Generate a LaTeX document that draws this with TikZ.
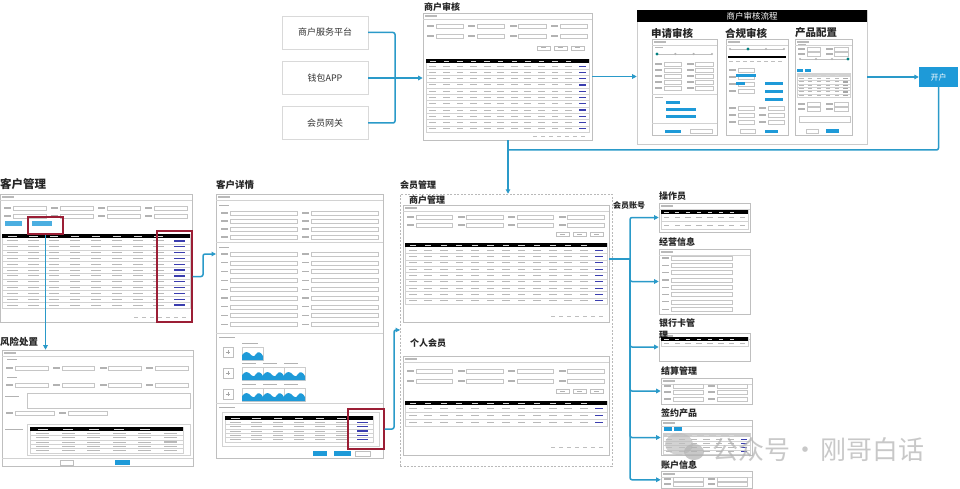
\documentclass[tikz,border=0pt]{standalone}
\usepackage{fontspec}
\setmainfont{Noto Sans CJK SC}
\usetikzlibrary{fit,arrows.meta}
\definecolor{flow}{HTML}{2A9AC9}
\definecolor{kaihu}{HTML}{1E9AD8}
\definecolor{redbox}{HTML}{9B1E35}
\definecolor{link}{HTML}{3A3DAE}
\definecolor{shotgray}{HTML}{BFBFBF}

\tikzset{
  flowline/.style={draw=flow, line width=1.5pt, rounded corners=2pt},
  flowarrow/.style={flowline, -{Triangle[length=4.5pt,width=4.5pt]}},
  shotframe/.style={draw=shotgray, line width=0.6pt, fill=white, inner sep=0pt},
  redframe/.style={draw=redbox, line width=1.1pt, inner sep=0pt},
  ttl/.style={font=\fontsize{9}{12}\selectfont\bfseries, anchor=west, inner sep=0pt, text=black!85},
  bigttl/.style={ttl, font=\fontsize{11.5}{14}\selectfont\bfseries},
  subttl/.style={ttl, font=\fontsize{10.5}{13}\selectfont\bfseries},
  srcbox/.style={draw=gray!30, fill=white, minimum width=86pt, minimum height=33pt, inner sep=0pt, font=\fontsize{9}{11}\selectfont, text=black!80},
}

\newcommand{\shot}[5]{%
  \node[shotframe, fit={(#2,#3)(#4,#5)}] (#1) {};
  \draw[gray!35, line width=0.4pt] (#2,#3+6) -- (#4,#3+6);
  \fill[gray!55] (#2+2,#3+2.4) rectangle ++(12,1.2);
}
\newcommand{\formrows}[6]{%
  \foreach \frw in {1,...,#4}{%
    \foreach \fcl in {1,...,#6}{%
      \pgfmathsetmacro\fcx{(#1)+(\fcl-1)*((#2)-(#1))/(#6)}%
      \pgfmathsetmacro\fcy{(#3)+(\frw-1)*(#5)}%
      \pgfmathsetmacro\fcw{((#2)-(#1))/(#6)}%
      \fill[gray!60] (\fcx+2,\fcy-0.6) rectangle ++(7,1.2);
      \draw[gray!45, line width=0.3pt] (\fcx+11,\fcy-2) rectangle (\fcx+\fcw-3,\fcy+2);
    }}}
\newcommand{\btns}[2]{%
  \foreach \bb in {1,2,3}{%
    \draw[gray!50, line width=0.3pt] ({(#1)-\bb*17},{(#2)-2}) rectangle ++(13,4);
    \fill[gray!60] ({(#1)-\bb*17+4},{(#2)-0.5}) rectangle ++(5,1);}}
\newcommand{\tablebody}[8]{%
  \pgfmathsetmacro\tbA{#1}\pgfmathsetmacro\tbB{#2}%
  \pgfmathsetmacro\tbT{#3}\pgfmathsetmacro\tbE{#4}%
  \pgfmathsetmacro\tbH{(\tbE-\tbT-4)/(#5)}%
  \pgfmathsetmacro\tbW{(\tbB-\tbA)/(#6)}%
  \pgfmathtruncatemacro\tbN{(#6)-2}%
  \draw[gray!35, line width=0.3pt] (\tbA,\tbT) rectangle (\tbB,\tbE);
  \fill[#8] (\tbA,\tbT) rectangle (\tbB,\tbT+4);
  \foreach \ti in {0,...,\tbN}{\fill[gray!30] (\tbA+\ti*\tbW+0.3*\tbW,\tbT+1.6) rectangle ++(0.4*\tbW,0.8);}
  \foreach \ti in {1,...,#5}{%
    \draw[gray!35, line width=0.3pt] (\tbA,\tbT+4+\ti*\tbH) -- (\tbB,\tbT+4+\ti*\tbH);
    \foreach \tc in {0,...,\tbN}{%
      \fill[gray!55] (\tbA+\tc*\tbW+0.25*\tbW,\tbT+4+\ti*\tbH-0.5*\tbH-0.5) rectangle ++(0.5*\tbW,1);}
    \fill[#7] (\tbB-0.75*\tbW,\tbT+4+\ti*\tbH-0.5*\tbH-0.6) rectangle ++(0.5*\tbW,1.2);
  }}
\newcommand{\pager}[2]{%
  \foreach \pp in {0,...,6}{\fill[gray!50] ({(#1)-56+\pp*8},{(#2)-0.5}) rectangle ++(4,1);}}
\newcommand{\mountain}[2]{%
  \draw[gray!40, line width=0.3pt, fill=white] (#1,#2) rectangle ++(21,13);
  \fill[kaihu] (#1,#2+13) -- (#1,#2+8) .. controls (#1+3,#2+4) and (#1+6,#2+4) .. (#1+9,#2+8) .. controls (#1+11,#2+10) and (#1+12,#2+10) .. (#1+14,#2+7) .. controls (#1+16,#2+4) and (#1+19,#2+5) .. (#1+21,#2+9) -- (#1+21,#2+13) -- cycle;
}
\newcommand{\plusbox}[2]{%
  \draw[gray!50, line width=0.3pt] (#1,#2) rectangle ++(10,10);
  \draw[gray!70, line width=0.5pt] (#1+3,#2+5) -- (#1+7,#2+5) (#1+5,#2+3) -- (#1+5,#2+7);
}
\newcommand{\steps}[4]{% x1 x2 y activeindex
  \draw[gray!50, line width=0.4pt] (#1,#3) -- (#2,#3);
  \foreach \sk in {0,1,2,3}{%
    \pgfmathsetmacro\skx{(#1)+\sk*((#2)-(#1))/3}%
    \ifnum\sk=#4 \fill[teal] (\skx,#3) circle (1.6);\else\fill[gray!60] (\skx,#3) circle (1.2);\fi}
}

\begin{document}
\begin{tikzpicture}[x=1pt,y=-1pt]
\useasboundingbox[fill=white] (0,0) rectangle (960,489);

% ---------- sources ----------
\node[srcbox] (src1) at (325,32.5) {商户服务平台};
\node[srcbox] (src2) at (325,78) {钱包APP};
\node[srcbox] (src3) at (325,123) {会员网关};

% ---------- 商户审核 ----------
\node[ttl] (tAudit) at (424,7) {商户审核};
\shot{audit}{423}{13}{592}{140}
\formrows{425}{590}{26}{2}{10}{4}
\btns{588}{48}
\tablebody{426}{589}{59}{132}{11}{12}{link}{black}
\pager{589}{137}

% ---------- 商户审核流程 ----------
\node[shotframe, draw=gray!40, fit={(637,10)(867,144)}] (flowbox) {};
\node[fill=black, text=white, minimum width=230pt, minimum height=12pt, anchor=north west, inner sep=0pt, font=\fontsize{8.5}{10}\selectfont] (flowtitle) at (637,10) {商户审核流程};
\node[subttl] (tApply) at (651,33) {申请审核};
\node[subttl] (tComp) at (725,33) {合规审核};
\node[subttl] (tProd) at (795,33) {产品配置};
% apply
\shot{apply}{652}{39}{717}{135}
\fill[gray!55] (655,47) rectangle ++(8,1);
\steps{657}{712}{54}{0}
\formrows{653}{716}{64}{5}{6}{2}
\draw[gray!35, line width=0.3pt] (652,94) -- (717,94);
\fill[gray!55] (655,97) rectangle ++(8,1);
\fill[kaihu] (666,101) rectangle (680,104);
\fill[kaihu] (666,108) rectangle (696,111);
\fill[kaihu] (666,115) rectangle (696,118);
\draw[gray!35, line width=0.3pt] (652,123) -- (717,123);
\fill[kaihu] (665,130) rectangle (681,133);
\draw[gray!45, line width=0.3pt] (690,129) rectangle (712,133);
% compliance
\shot{comp}{726}{39}{788}{135}
\steps{730}{784}{49}{1}
\fill[black] (728,56) rectangle (786,58.5);
\foreach \q in {0,...,7}{\fill[gray!50] (729+\q*7,61) rectangle ++(4,1);}
\formrows{727}{757}{70}{4}{7}{1}
\fill[kaihu] (736,74) rectangle (756,77);
\fill[kaihu] (736,82) rectangle (745,85);
\fill[kaihu] (765,82) rectangle (783,85);
\fill[kaihu] (765,90) rectangle (783,93);
\fill[kaihu] (765,98) rectangle (783,101);
\formrows{727}{787}{108}{3}{7}{2}
\fill[kaihu] (765,130) rectangle (778,133);
\draw[gray!45, line width=0.3pt] (740,129) rectangle (755,133);
% product
\shot{prod}{795}{39}{852}{135}
\fill[gray!55] (798,44) rectangle ++(8,1);
\formrows{796}{851}{49}{2}{5}{2}
\steps{800}{848}{59}{3}
\fill[kaihu] (797,69) rectangle (803,72);
\fill[kaihu] (805,69) rectangle (811,72);
\tablebody{797}{850}{73}{97}{6}{6}{gray!70}{gray!35}
\formrows{796}{851}{104}{2}{5}{2}
\draw[gray!45, line width=0.3pt] (799,116) rectangle (850,122);
\fill[kaihu] (826,129) rectangle (839,133);
\draw[gray!45, line width=0.3pt] (806,129) rectangle (818,133);

% ---------- 开户 ----------
\node[fill=kaihu, text=white, minimum width=39pt, minimum height=20pt, inner sep=0pt, font=\fontsize{8}{10}\selectfont] (kaihu) at (938.5,77) {开户};

% ---------- 会员管理 ----------
\node[ttl] (tMember) at (400,185) {会员管理};
\node[draw=gray!55, dashed, dash pattern=on 2pt off 1.5pt, line width=0.5pt, fit={(400,194)(612,466)}, inner sep=0pt] (member) {};
\node[ttl] (tMerch) at (409,200) {商户管理};
\shot{mem1}{403}{205}{609}{322}
\formrows{405}{607}{217}{2}{8}{4}
\btns{607}{234}
\tablebody{405}{607}{243}{304}{9}{13}{link}{black}
\pager{607}{316}
\node[ttl] (tPerson) at (410,343) {个人会员};
\shot{mem2}{403}{356}{609}{455}
\formrows{405}{607}{371}{2}{10}{4}
\btns{607}{391}
\tablebody{405}{607}{401}{426}{3}{13}{link}{black}
\pager{607}{447}
\node[ttl, font=\fontsize{8}{10}\selectfont\bfseries] (tAcct) at (613,205) {会员账号};

% ---------- right column ----------
\node[ttl] (tOp) at (659,196) {操作员};
\shot{op}{659}{203}{750}{232}
\tablebody{661}{748}{210}{229}{2}{8}{gray!55}{black}
\node[ttl] (tBiz) at (659,242) {经营信息};
\shot{biz}{659}{249}{750}{314}
\formrows{660}{735}{258}{8}{7.3}{1}
\shot{bank}{659}{333}{750}{361}
\node[ttl, anchor=north west, align=left] (tBank) at (659,319) {银行卡管\\理};
\tablebody{661}{748}{337}{346}{1}{8}{gray!55}{black}
\node[ttl] (tSettle) at (661,371) {结算管理};
\shot{settle}{661}{378}{752}{404}
\formrows{662}{750}{386}{2}{6}{2}
\formrows{662}{750}{399}{1}{6}{2}
\node[ttl] (tSign) at (661,413) {签约产品};
\shot{sign}{661}{420}{752}{455}
\fill[kaihu] (664,427) rectangle (672,430.5);
\fill[kaihu] (674,427) rectangle (682,430.5);
\tablebody{663}{750}{433}{454}{4}{7}{link}{gray!40}
\node[ttl] (tAcctInfo) at (661,465) {账户信息};
\shot{acct}{661}{471}{752}{488.5}
\formrows{662}{750}{479}{2}{5}{2}

% ---------- 客户管理 ----------
\node[bigttl] (tCust) at (0,184) {客户管理};
\shot{cust}{0}{194}{192}{322}
\formrows{2}{190}{208}{2}{8}{4}
\fill[kaihu!80] (5,221) rectangle (22,226);
\fill[kaihu!80] (32,221) rectangle (52,226);
\tablebody{2}{190}{234}{308}{12}{9}{link}{black}
\pager{190}{317}
\node[redframe, fit={(28,217)(63,234)}] (redA) {};
\node[redframe, fit={(157,231)(192,322)}] (redB) {};

% ---------- 风险处置 ----------
\node[ttl, font=\fontsize{9.5}{12}\selectfont\bfseries] (tRisk) at (0,342) {风险处置};
\shot{risk}{2}{350}{193}{466}
\fill[gray!60] (7,358.5) rectangle ++(10,1.2);
\formrows{4}{191}{368}{1}{8}{4}
\fill[gray!60] (7,376.5) rectangle ++(10,1.2);
\formrows{4}{191}{385}{1}{8}{4}
\fill[gray!60] (5,395.5) rectangle ++(14,1.2);
\draw[gray!45, line width=0.3pt] (27,393) rectangle (190,408);
\formrows{4}{110}{413}{1}{8}{2}
\fill[gray!60] (5,428.5) rectangle ++(18,1.2);
\draw[gray!35, line width=0.3pt] (27,424) rectangle (190,455);
\tablebody{30}{183}{427}{453}{5}{6}{gray!55}{black}
\draw[gray!35, line width=0.3pt] (2,458) -- (193,458);
\draw[gray!50, line width=0.3pt] (60,460) rectangle (73,465);
\fill[kaihu] (115,460) rectangle (130,465);

% ---------- 客户详情 ----------
\node[ttl, font=\fontsize{9.5}{12}\selectfont\bfseries] (tDetail) at (216,185) {客户详情};
\shot{detail}{216}{194}{383}{458}
\fill[gray!60] (219,204.5) rectangle ++(10,1.2);
\formrows{219}{381}{213}{4}{8}{2}
\draw[gray!35, line width=0.3pt] (216,242) -- (383,242);
\fill[gray!60] (219,246.5) rectangle ++(10,1.2);
\formrows{219}{381}{254}{9}{8.8}{2}
\draw[gray!35, line width=0.3pt] (216,333) -- (383,333);
\fill[gray!60] (219,336.5) rectangle ++(16,1.2);
\plusbox{223}{347}
\fill[gray!60] (242,343) rectangle ++(16,1);
\mountain{242}{347}
\plusbox{223}{368}
\foreach \mx in {242,263,284}{\fill[gray!60] (\mx,363) rectangle ++(14,1); \mountain{\mx}{367}}
\plusbox{223}{389}
\foreach \mx in {242,263,284}{\fill[gray!60] (\mx,384) rectangle ++(14,1); \mountain{\mx}{388}}
\draw[gray!35, line width=0.3pt] (216,403) -- (383,403);
\fill[gray!60] (219,406.5) rectangle ++(16,1.2);
\draw[gray!35, line width=0.3pt] (222,412) rectangle (379,446);
\tablebody{225}{373}{416}{442}{5}{7}{link}{black}
\fill[kaihu] (313,451) rectangle (327,456);
\fill[kaihu] (334,451) rectangle (351,456);
\draw[gray!50, line width=0.3pt] (355,451) rectangle (370,456);
\node[redframe, fit={(348,409)(384,449)}] (redC) {};

% ---------- connectors ----------
\coordinate (jsrc) at (395,78);
\draw[flowline] (src1.east) -| (jsrc);
\draw[flowline] (src3.east) -| (jsrc);
\draw[flowarrow] (src2.east) -- (src2.east -| audit.west);
\draw[flowarrow] (audit.east) -- (audit.east -| flowbox.west);
\draw[flowarrow] (flowbox.east) -- (kaihu.west);
\coordinate (jk) at (508,150);
\draw[flowline] (kaihu.south) |- (jk);
\draw[flowline] (audit.south -| jk) -- (jk);
\draw[flowarrow] (jk) -- (jk |- member.north);

\draw[flowarrow] (redA.south) -- (redA.south |- risk.north);
\coordinate (jc) at (203,276.5);
\coordinate (dIn) at (216,254);
\draw[flowarrow] (redB.east) -- (jc) |- (dIn);
\coordinate (jr) at (394,429);
\coordinate (mIn) at (400,330);
\draw[flowarrow] (redC.east) -- (jr) |- (mIn);

\coordinate (tr) at (630,259);
\draw[flowline] (mem1.east |- tr) -- (tr);
\draw[flowarrow] (tr) |- (op.west);
\draw[flowarrow] (tr) |- (biz.west);
\draw[flowarrow] (tr) |- (bank.west);
\draw[flowarrow] (tr) |- (settle.west);
\draw[flowarrow] (tr) |- (sign.west);
\draw[flowarrow] (tr) |- (acct.west);

% ---------- watermark ----------
\begin{scope}[opacity=0.7]
\fill[gray!50] (679,444) ellipse (14 and 11);
\fill[gray!60] (694,452) ellipse (10 and 8);
\node[text=gray!60, font=\fontsize{26}{30}\selectfont, anchor=west, inner sep=0pt] (wm) at (712,450) {公众号\hspace{2pt}·\hspace{2pt}刚哥白话};
\end{scope}
\end{tikzpicture}
\end{document}
